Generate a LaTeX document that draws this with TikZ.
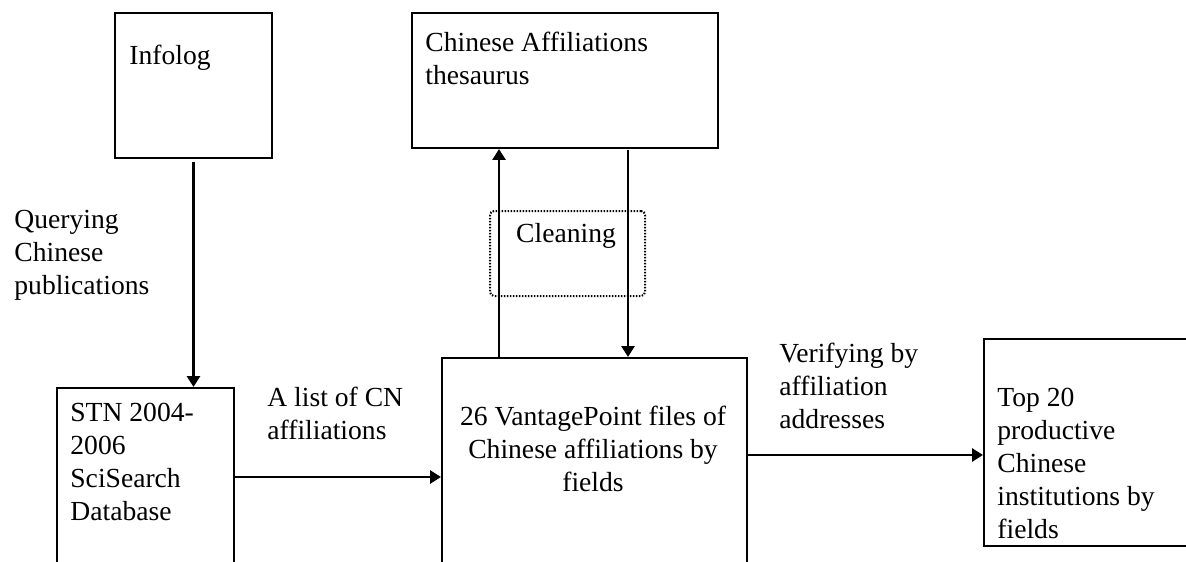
\documentclass[tikz,border=0pt]{standalone}
\usepackage{fontspec}
\setmainfont{Liberation Serif}
\usetikzlibrary{arrows.meta}

\begin{document}
\begin{tikzpicture}[
            x=0.5pt, y=-0.5pt,
            every node/.style={font=\fontsize{13.8}{16.5}\selectfont, inner sep=0pt},
            box/.style={draw, line width=1pt, anchor=north west},
            txt/.style={anchor=north west, align=left},
            flow/.style={line width=1.4pt, -{Triangle[length=5.5pt,width=6.5pt]}}
        ]
        \useasboundingbox (0,0) rectangle (1186,561);
        % boxes
        \node[box, minimum width=78.5pt, minimum height=72.5pt] (infolog) at (114,12) {};
        \node[box, minimum width=153pt, minimum height=67.5pt] (thes) at (411,12) {};
        \node[box, minimum width=88.5pt, minimum height=89pt] (stn) at (56,387) {};
        \node[box, minimum width=152.5pt, minimum height=110pt] (vp) at (441,357) {};
        \node[box, minimum width=115pt, minimum height=103.5pt] (top) at (983,338) {};
        \node[box, dash pattern=on 0.75pt off 0.75pt, rounded corners=2pt,
            minimum width=77.5pt, minimum height=42.5pt] (clean) at (489,210) {};
        % texts
        \node[txt] (infologtxt) at (129,45) {Infolog};
        \node[txt] (thestxt) at (425,32) {Chinese Affiliations\\thesaurus};
        \node[txt] (querylbl) at (14,210) {Querying\\Chinese\\publications};
        \node[txt] (stntxt) at (70,403) {STN 2004-\\2006\\SciSearch\\Database};
        \node[txt] (listlbl) at (267,387) {A list of CN\\affiliations};
        \node[anchor=north, align=center] (vptxt) at (593,406) {26 VantagePoint files of\\Chinese affiliations by\\fields};
        \node[txt] (verlbl) at (779,343) {Verifying by\\affiliation\\addresses};
        \node[txt] (toptxt) at (997,388) {Top 20\\productive\\Chinese\\institutions by\\fields};
        \node[anchor=north] (cleantxt) at (566,223) {Cleaning};
        % connectors
        \coordinate (upx) at (499,0);
        \coordinate (downtop) at (628,150);
        \coordinate (outy) at (0,455);
        \draw[flow] ([yshift=-1.5pt]infolog.south) -- (infolog.south |- stn.north);
        \draw[flow] (stn.east) -- (vp.west |- stn.east);
        \draw[flow] (vp.north -| upx) -- (thes.south -| upx);
        \draw[flow] (downtop) -- (vp.north -| downtop);
        \draw[flow] (vp.east |- outy) -- (top.west |- outy);
    \end{tikzpicture}
\end{document}
